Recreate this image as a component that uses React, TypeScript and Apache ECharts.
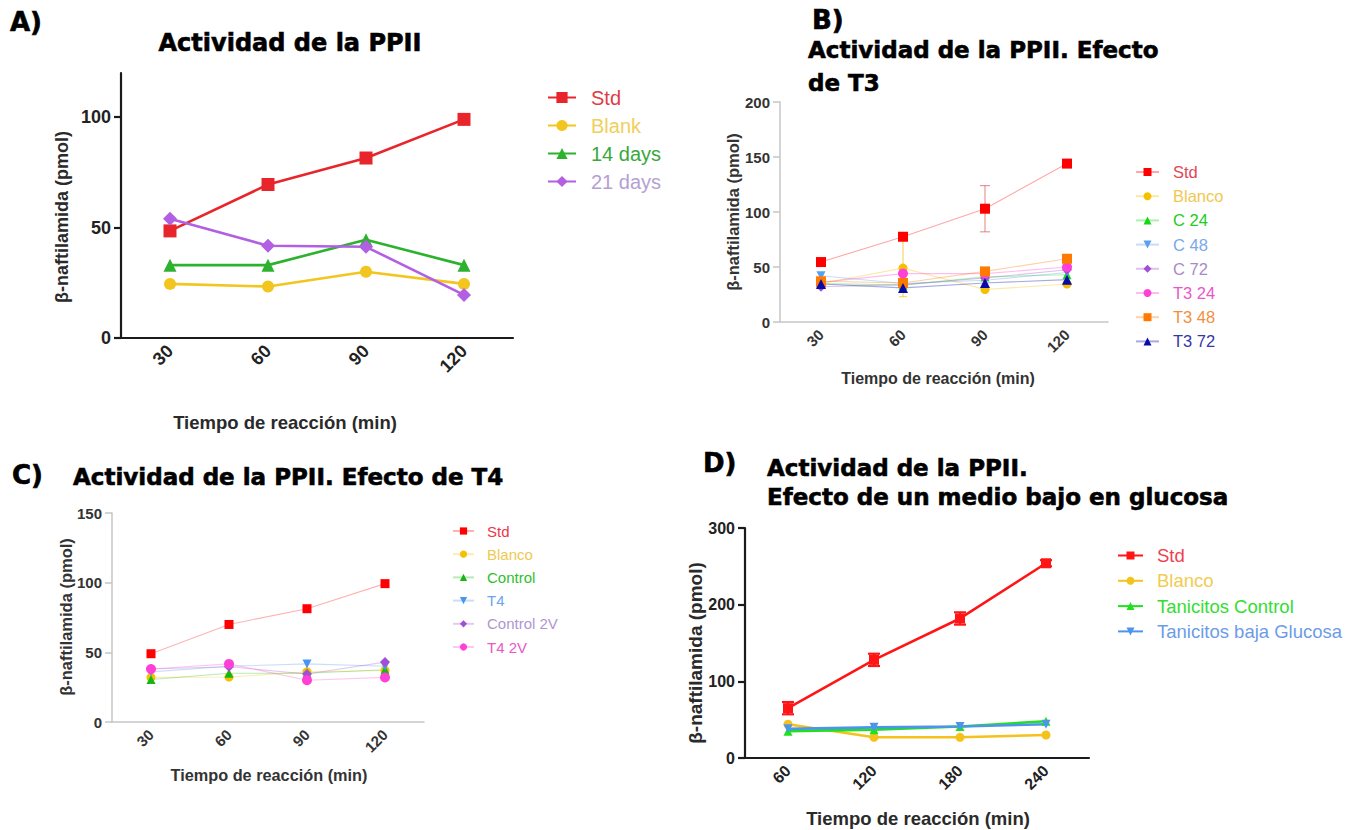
import { useEffect, useRef } from "react";
import * as echarts from "echarts";

// ---- categories ----
const timeCats = ["30", "60", "90", "120"];
const glucCats = ["60", "120", "180", "240"];

// ---- A) Actividad de la PPII ----
const aStd = [48.5, 69.5, 81.5, 99];
const aBlank = [24.5, 23.3, 30, 24.5];
const a14days = [33, 33, 44.5, 33];
const a21days = [54, 41.8, 41.3, 19.5];
const aTicks = [0, 50, 100];

// ---- B) Efecto de T3 ----
const bStd = [54.5, 77.5, 103, 144];
const bBlanco = [35, 49, 29.5, 34.5];
const bC24 = [35, 33.5, 41, 43];
const bC48 = [42, 35, 38, 45];
const bC72 = [32, 34, 40, 47.5];
const bT3_24 = [36, 44, 44, 50];
const bT3_48 = [37, 35.5, 46, 57.5];
const bT3_72 = [34.5, 31, 35.5, 38.5];
const bStdErr = [2, 3, 21, 3];
const bBlancoErr = [0, 26, 0, 0];
const bTicks = [0, 50, 100, 150, 200];

// ---- C) Efecto de T4 ----
const cStd = [49, 70, 81.3, 99.3];
const cBlanco = [32, 32.3, 36, 37];
const cControl = [30.5, 35, 35, 37.5];
const cT4 = [36, 40, 41.7, 40];
const cControl2V = [38, 39.6, 34.5, 43];
const cT4_2V = [38, 41.7, 30, 32];
const cTicks = [0, 50, 100, 150];

// ---- D) Medio bajo en glucosa ----
const dStd = [65, 128, 182, 254];
const dStdErr = [8, 8, 8, 4];
const dBlanco = [44, 27, 27, 30];
const dControl = [35, 37, 41, 48];
const dBaja = [38, 40, 41, 44];
const dTicks = [0, 100, 200, 300];

const SANS = "Liberation Sans";
const HEAVY = "DejaVu Sans";

type Spec = {
  label: string;
  values: number[];
  color: string;
  text: string;
  symbol: string;
  size: number;
  rotate?: number;
};

const panelA: Spec[] = [
  { label: "Std", values: aStd, color: "#e8252b", text: "#e03c44", symbol: "rect", size: 13 },
  { label: "Blank", values: aBlank, color: "#f2c51f", text: "#f0cf5c", symbol: "circle", size: 12 },
  { label: "14 days", values: a14days, color: "#2db22f", text: "#38a83a", symbol: "triangle", size: 13 },
  { label: "21 days", values: a21days, color: "#b25fe4", text: "#b4a0d4", symbol: "diamond", size: 14 },
];

const panelB: Spec[] = [
  { label: "Std", values: bStd, color: "#ff0000", text: "#e0485a", symbol: "rect", size: 10 },
  { label: "Blanco", values: bBlanco, color: "#f5c000", text: "#f0c850", symbol: "circle", size: 9 },
  { label: "C 24", values: bC24, color: "#14d814", text: "#22cc22", symbol: "triangle", size: 9 },
  { label: "C 48", values: bC48, color: "#5a9ff0", text: "#7aa8e8", symbol: "triangle", size: 9, rotate: 180 },
  { label: "C 72", values: bC72, color: "#a24fd6", text: "#a98ac8", symbol: "diamond", size: 10 },
  { label: "T3 24", values: bT3_24, color: "#ff3fd8", text: "#e858c8", symbol: "circle", size: 10 },
  { label: "T3 48", values: bT3_48, color: "#ff7a00", text: "#f09040", symbol: "rect", size: 10 },
  { label: "T3 72", values: bT3_72, color: "#0a0aa8", text: "#3636a8", symbol: "triangle", size: 10 },
];

const panelC: Spec[] = [
  { label: "Std", values: cStd, color: "#ff0000", text: "#e8384a", symbol: "rect", size: 9 },
  { label: "Blanco", values: cBlanco, color: "#f5c000", text: "#f0c850", symbol: "circle", size: 9 },
  { label: "Control", values: cControl, color: "#14b814", text: "#2ebf2e", symbol: "triangle", size: 9 },
  { label: "T4", values: cT4, color: "#4a95f0", text: "#6ea4ec", symbol: "triangle", size: 9, rotate: 180 },
  { label: "Control 2V", values: cControl2V, color: "#a04fd6", text: "#b096d0", symbol: "diamond", size: 10 },
  { label: "T4 2V", values: cT4_2V, color: "#ff3fd8", text: "#e858c8", symbol: "circle", size: 10 },
];

const panelD: Spec[] = [
  { label: "Std", values: dStd, color: "#ff1515", text: "#ef4050", symbol: "rect", size: 10 },
  { label: "Blanco", values: dBlanco, color: "#f5c21c", text: "#f0cc50", symbol: "circle", size: 9 },
  { label: "Tanicitos Control", values: dControl, color: "#1de21d", text: "#33dd33", symbol: "triangle", size: 9 },
  { label: "Tanicitos baja Glucosa", values: dBaja, color: "#4f94ec", text: "#6c9ce8", symbol: "triangle", size: 9, rotate: 180 },
];

type Grid = { left: number; top: number; width: number; height: number };
const grids: Grid[] = [
  { left: 121, top: 73, width: 392, height: 265 },
  { left: 780, top: 102, width: 328, height: 220 },
  { left: 112, top: 513, width: 312, height: 209 },
  { left: 745, top: 528, width: 344, height: 230 },
];

type AxisLook = { line: string; width: number; label: string; size: number };
const axisA: AxisLook = { line: "#1a1a1a", width: 2.2, label: "#222", size: 18 };
const axisB: AxisLook = { line: "#c6c6c6", width: 1.5, label: "#333", size: 15 };
const axisC: AxisLook = { line: "#c6c6c6", width: 1.5, label: "#333", size: 15 };
const axisD: AxisLook = { line: "#1a1a1a", width: 2.2, label: "#222", size: 16 };

function xAxis(index: number, cats: string[], look: AxisLook) {
  return {
    type: "category",
    gridIndex: index,
    data: cats,
    boundaryGap: true,
    axisLine: { lineStyle: { color: look.line, width: look.width } },
    axisTick: { alignWithLabel: true, interval: 0, length: 7, lineStyle: { color: look.line, width: look.width } },
    axisLabel: {
      interval: 0,
      rotate: 45,
      margin: 10,
      color: look.label,
      fontSize: look.size,
      fontWeight: "bold",
      fontFamily: SANS,
    },
    splitLine: { show: false },
  };
}

function yAxis(index: number, max: number, ticks: number[], look: AxisLook) {
  return {
    type: "value",
    gridIndex: index,
    min: 0,
    max,
    axisLine: { show: true, lineStyle: { color: look.line, width: look.width } },
    axisTick: { show: true, length: 7, customValues: ticks, lineStyle: { color: look.line, width: look.width } },
    axisLabel: {
      customValues: ticks,
      margin: 10,
      color: look.label,
      fontSize: look.size,
      fontWeight: "bold",
      fontFamily: SANS,
    },
    splitLine: { show: false },
  };
}

function lineSeries(specs: Spec[], panel: string, index: number, width: number, opacity: number) {
  return specs.map((s) => ({
    type: "line",
    name: `${s.label}@${panel}`,
    xAxisIndex: index,
    yAxisIndex: index,
    data: s.values,
    symbol: s.symbol,
    symbolSize: s.size,
    symbolRotate: s.rotate ?? 0,
    showAllSymbol: true,
    itemStyle: { color: s.color, opacity: 1 },
    lineStyle: { color: s.color, width, opacity },
    z: 3,
  }));
}

function errorBars(values: number[], errs: number[], index: number, color: string, capHalf: number, width: number) {
  const rows = values
    .map((v, i) => [i, v - errs[i], v + errs[i]])
    .filter((_, i) => errs[i] > 0);
  return {
    type: "custom",
    xAxisIndex: index,
    yAxisIndex: index,
    data: rows,
    encode: { x: 0, y: [1, 2] },
    silent: true,
    z: 2,
    renderItem: (_params: any, api: any) => {
      const lo = api.coord([api.value(0), api.value(1)]);
      const hi = api.coord([api.value(0), api.value(2)]);
      const style = { stroke: color, lineWidth: width };
      return {
        type: "group",
        children: [
          { type: "line", shape: { x1: lo[0], y1: lo[1], x2: hi[0], y2: hi[1] }, style },
          { type: "line", shape: { x1: lo[0] - capHalf, y1: lo[1], x2: lo[0] + capHalf, y2: lo[1] }, style },
          { type: "line", shape: { x1: hi[0] - capHalf, y1: hi[1], x2: hi[0] + capHalf, y2: hi[1] }, style },
        ],
      };
    },
  };
}

function legend(specs: Spec[], panel: string, left: number, top: number, o: {
  w: number; h: number; gap: number; font: number; lh: number; pad: number;
}) {
  return {
    orient: "vertical",
    left,
    top,
    itemWidth: o.w,
    itemHeight: o.h,
    itemGap: o.gap,
    selectedMode: false,
    formatter: (n: string) => n.split("@")[0],
    textStyle: { fontSize: o.font, fontFamily: SANS, lineHeight: o.lh, padding: [0, 0, 0, o.pad] },
    data: specs.map((s) => ({ name: `${s.label}@${panel}`, textStyle: { color: s.text } })),
  };
}

function heading(text: string, x: number, y: number, size: number, align = "left") {
  return {
    type: "text",
    x,
    y,
    style: {
      text,
      fill: "#000",
      fontSize: size,
      fontWeight: "bold",
      fontFamily: HEAVY,
      align,
      verticalAlign: "middle",
      stroke: "#000",
      lineWidth: 0.6,
    },
  };
}

function axisName(text: string, x: number, y: number, size: number, vertical: boolean, color = "#2a2a2a") {
  return {
    type: "text",
    x,
    y,
    rotation: vertical ? Math.PI / 2 : 0,
    style: {
      text,
      fill: color,
      fontSize: size,
      fontWeight: "bold",
      fontFamily: SANS,
      align: "center",
      verticalAlign: "middle",
    },
  };
}

const yName = "β-naftilamida (pmol)";
const xName = "Tiempo de reacción (min)";

function buildOption() {
  return {
    animation: false,
    backgroundColor: "#ffffff",
    grid: grids.map((g) => ({ ...g, containLabel: false })),
    xAxis: [
      xAxis(0, timeCats, axisA),
      xAxis(1, timeCats, axisB),
      xAxis(2, timeCats, axisC),
      xAxis(3, glucCats, axisD),
    ],
    yAxis: [
      yAxis(0, 120, aTicks, axisA),
      yAxis(1, 200, bTicks, axisB),
      yAxis(2, 150, cTicks, axisC),
      yAxis(3, 300, dTicks, axisD),
    ],
    legend: [
      legend(panelA, "A", 542, 81, { w: 28, h: 14, gap: 5, font: 20, lh: 23, pad: 10 }),
      legend(panelB, "B", 1130, 157, { w: 23, h: 10, gap: 4.2, font: 16.5, lh: 20, pad: 9 }),
      legend(panelC, "C", 447, 517, { w: 21, h: 9, gap: 5.2, font: 15, lh: 18, pad: 8 }),
      legend(panelD, "D", 1112, 540, { w: 25, h: 10, gap: 4.3, font: 18.5, lh: 21, pad: 9 }),
    ],
    series: [
      errorBars(bStd, bStdErr, 1, "rgba(220,80,90,0.6)", 5, 1.2),
      errorBars(bBlanco, bBlancoErr, 1, "rgba(240,200,40,0.7)", 4, 1.2),
      errorBars(dStd, dStdErr, 3, "#ff1515", 6, 2.2),
      ...lineSeries(panelA, "A", 0, 2.6, 1),
      ...lineSeries(panelB, "B", 1, 1.1, 0.35),
      ...lineSeries(panelC, "C", 2, 1.1, 0.3),
      ...lineSeries(panelD, "D", 3, 2.6, 1),
    ],
    graphic: [
      heading("A)", 10, 22, 26),
      heading("Actividad de la PPII", 290, 43, 24, "center"),
      heading("B)", 812, 20, 26),
      heading("Actividad de la PPII. Efecto", 808, 50, 23),
      heading("de T3", 808, 83, 23),
      heading("C)", 12, 475, 26),
      heading("Actividad de la PPII. Efecto de T4", 73, 477, 23),
      heading("D)", 703, 463, 26),
      heading("Actividad de la PPII.", 767, 468, 23),
      heading("Efecto de un medio bajo en glucosa", 767, 497, 23),
      axisName(yName, 62, 217, 18, true),
      axisName(xName, 285, 422, 18.5, false),
      axisName(yName, 733, 212, 16.5, true, "#333"),
      axisName(xName, 938, 378, 16, false, "#333"),
      axisName(yName, 66, 617, 16.5, true, "#333"),
      axisName(xName, 269, 775, 16.3, false, "#333"),
      axisName(yName, 695, 653, 19, true),
      axisName(xName, 918, 818, 18.5, false),
    ],
  };
}

export default function App() {
  const ref = useRef<HTMLDivElement>(null);
  useEffect(() => {
    if (!ref.current) return;
    const chart = echarts.init(ref.current, null, { renderer: "svg" });
    chart.setOption(buildOption() as any);
    return () => chart.dispose();
  }, []);
  return (
    <div
      ref={ref}
      style={{ position: "absolute", left: 0, top: 0, width: 1353, height: 830, background: "#fff" }}
    />
  );
}
